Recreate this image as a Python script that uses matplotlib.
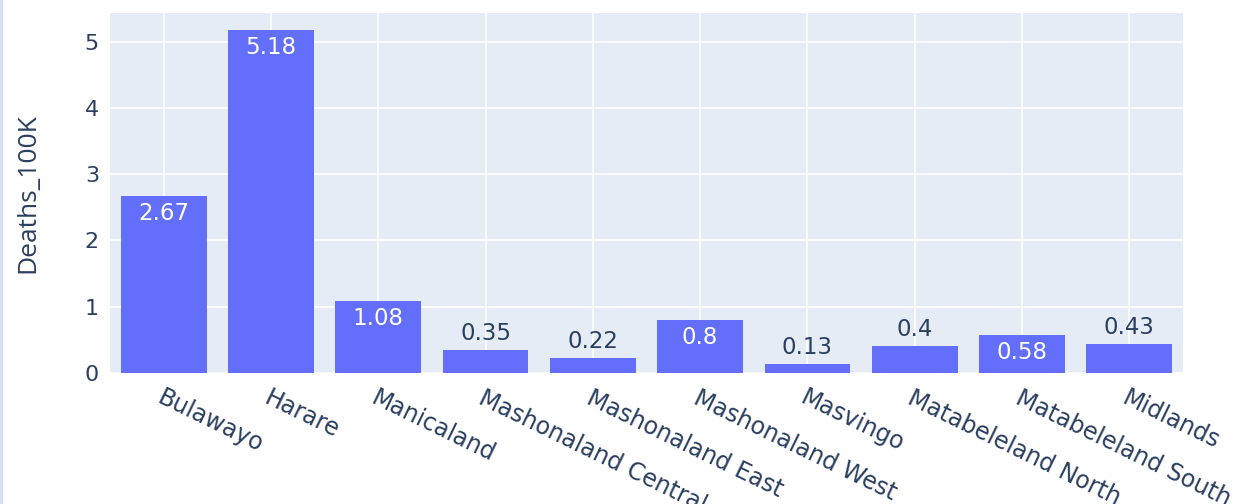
import matplotlib
matplotlib.use('Agg')
import matplotlib.pyplot as plt
from matplotlib.patches import Rectangle

provinces = ['Bulawayo', 'Harare', 'Manicaland', 'Mashonaland Central',
             'Mashonaland East', 'Mashonaland West', 'Masvingo',
             'Matabeleland North', 'Matabeleland South', 'Midlands']
deaths_100k = [2.67, 5.18, 1.08, 0.35, 0.22, 0.8, 0.13, 0.4, 0.58, 0.43]
y_ticks = [0, 1, 2, 3, 4, 5]

bar_color = '#636efa'
bg_color = '#e5ecf6'
text_color = '#2a3f5f'

fig = plt.figure(figsize=(12.39, 5.04), dpi=100)
ax = fig.add_axes([0.0888, 0.26, 0.866, 0.715])
ax.set_facecolor(bg_color)

# thin pale strip on the left edge of the screenshot
fig.patches.append(Rectangle((0, 0), 0.002, 1, transform=fig.transFigure,
                             color='#d6e0f0', zorder=0))

x = list(range(len(provinces)))
ax.bar(x, deaths_100k, width=0.8, color=bar_color, zorder=3)

ax.set_xlim(-0.5, len(provinces) - 0.5)
ax.set_ylim(0, 5.44)
ax.set_yticks(y_ticks)
ax.set_yticklabels([str(t) for t in y_ticks])
ax.set_xticks(x)
ax.set_xticklabels(provinces, rotation=-26, ha='left', va='top',
                   rotation_mode='anchor', fontsize=17)

ax.grid(True, color='white', linewidth=1.2, zorder=0)
ax.set_axisbelow(True)
for s in ax.spines.values():
    s.set_visible(False)
ax.tick_params(axis='both', length=0, colors=text_color)
ax.tick_params(axis='y', pad=8, labelsize=16)
ax.tick_params(axis='x', pad=9)

ax.set_ylabel('Deaths_100K', fontsize=19, color=text_color,
              family='Open Sans', labelpad=32)

# value labels: inside near the top when the bar is tall enough, else above
for xi, v in zip(x, deaths_100k):
    if v >= 0.5:
        ax.annotate(str(v), (xi, v), xytext=(0, -6), textcoords='offset pixels',
                    ha='center', va='top', color='white', fontsize=16.5, zorder=4)
    else:
        ax.annotate(str(v), (xi, v), xytext=(0, 5), textcoords='offset pixels',
                    ha='center', va='bottom', color=text_color, fontsize=16.5,
                    zorder=4)

fig.savefig('out.png', dpi=100, facecolor='white')
